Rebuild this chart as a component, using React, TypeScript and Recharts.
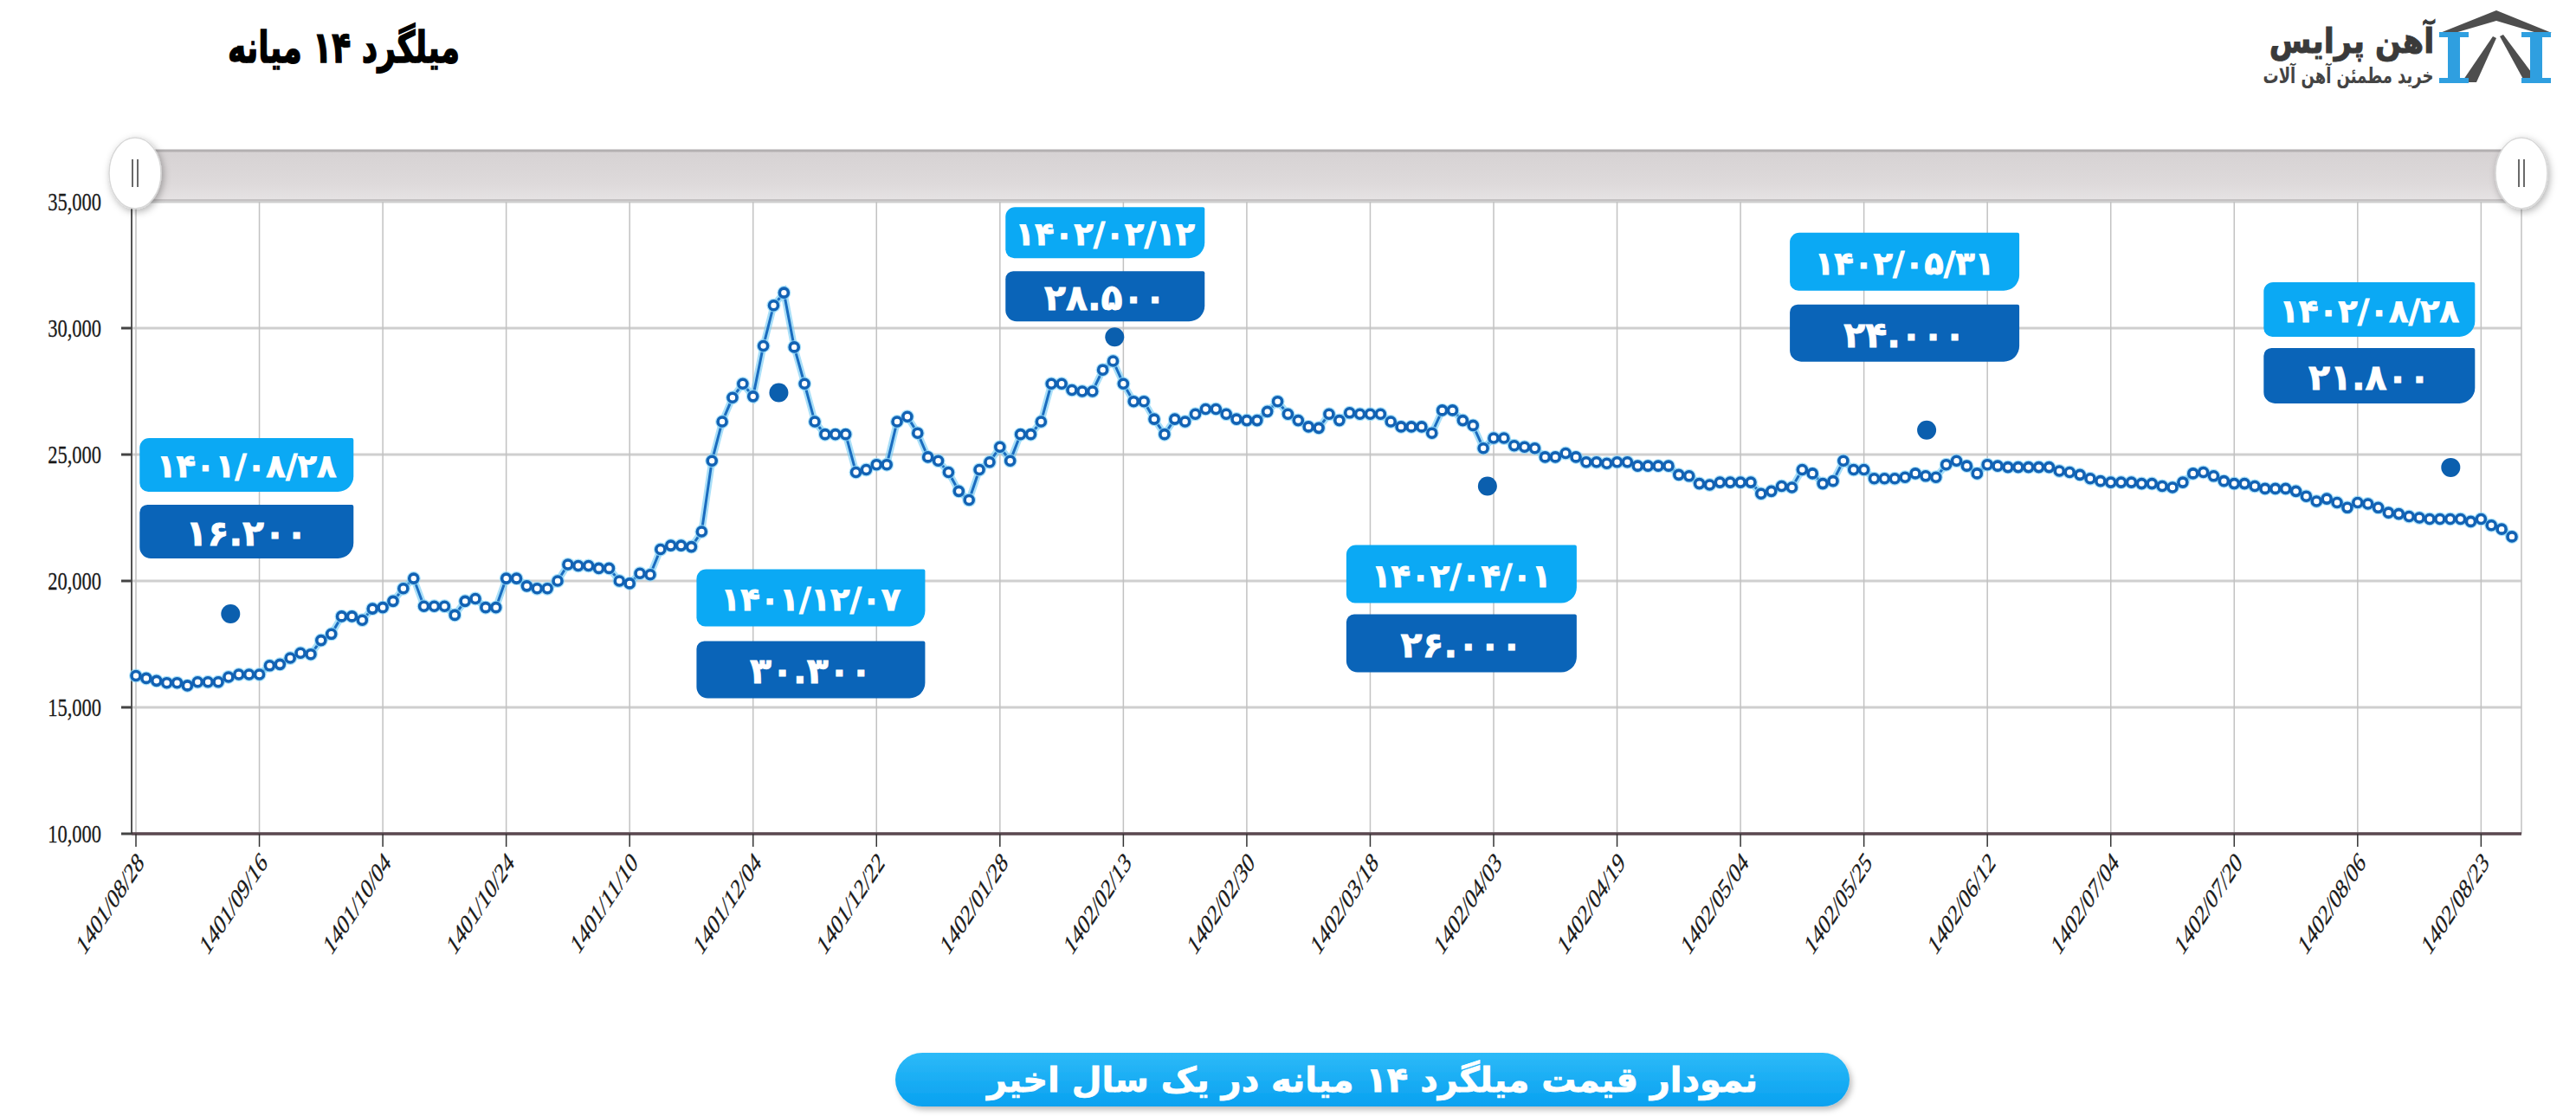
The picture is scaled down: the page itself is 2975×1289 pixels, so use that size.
import React from 'react';
import { LineChart, Line, XAxis, YAxis, CartesianGrid, ReferenceDot } from 'recharts';

const tickLabels = [
  '1401/08/28', '1401/09/16', '1401/10/04', '1401/10/24', '1401/11/10',
  '1401/12/04', '1401/12/22', '1402/01/28', '1402/02/13', '1402/02/30',
  '1402/03/18', '1402/04/03', '1402/04/19', '1402/05/04', '1402/05/25',
  '1402/06/12', '1402/07/04', '1402/07/20', '1402/08/06', '1402/08/23',
];
const tickIndexes = tickLabels.map((_, i) => i * 12);
const yTicks = [10000, 15000, 20000, 25000, 30000, 35000];

const prices = [
  16250, 16150, 16050, 15970, 15970, 15860, 16000, 16000, 16000, 16200, 16300, 16300,
  16300, 16650, 16700, 16950, 17150, 17100, 17650, 17900, 18600, 18600, 18450, 18900,
  18950, 19200, 19700, 20100, 19000, 19000, 19000, 18650, 19200, 19300, 18950, 18950,
  20100, 20100, 19800, 19700, 19700, 20000, 20650, 20600, 20600, 20500, 20500, 20000,
  19900, 20300, 20250, 21250, 21400, 21400, 21350, 21950, 24750, 26300, 27250, 27800,
  27300, 29300, 30900, 31400, 29250, 27800, 26300, 25800, 25800, 25800, 24300, 24400,
  24600, 24600, 26300, 26500, 25850, 24900, 24750, 24300, 23550, 23200, 24400, 24700,
  25300, 24750, 25800, 25800, 26300, 27800, 27800, 27550, 27500, 27500, 28350, 28700,
  27800, 27100, 27100, 26400, 25800, 26400, 26300, 26600, 26800, 26800, 26600, 26400,
  26350, 26350, 26700, 27100, 26600, 26350, 26100, 26050, 26600, 26350, 26650, 26600,
  26600, 26600, 26300, 26100, 26100, 26100, 25850, 26750, 26750, 26350, 26150, 25250,
  25650, 25650, 25350, 25300, 25250, 24900, 24900, 25050, 24900, 24700, 24700, 24650,
  24700, 24700, 24550, 24550, 24550, 24550, 24200, 24150, 23850, 23800, 23900, 23900,
  23900, 23900, 23450, 23550, 23750, 23700, 24400, 24250, 23850, 23950, 24750, 24400,
  24400, 24050, 24050, 24050, 24100, 24250, 24150, 24100, 24600, 24750, 24550, 24250,
  24600, 24550, 24500, 24500, 24500, 24500, 24500, 24350, 24300, 24200, 24050, 23950,
  23900, 23900, 23900, 23850, 23850, 23750, 23700, 23900, 24250, 24300, 24150, 23950,
  23850, 23850, 23750, 23650, 23650, 23650, 23550, 23350, 23150, 23250, 23100, 22900,
  23100, 23050, 22900, 22700, 22650, 22550, 22500, 22450, 22450, 22450, 22450, 22350,
  22450, 22200, 22050, 21750,
];

const data = prices.map((price, idx) => ({ idx, price }));

// annotation callouts
const calloutDates = ['1401/08/28', '1401/12/07', '1402/02/12', '1402/04/01', '1402/05/31', '1402/08/28'];
const calloutValues = ['16.200', '30.300', '28.500', '26.000', '24.000', '21.800'];
const calloutX = [9.2, 62.5, 95.15, 131.4, 174.1, 225.05];
const calloutY = [18700, 27450, 29650, 23750, 25970, 24490];

// layout of the callout boxes relative to their dot (pixels)
const calloutLayout = [
  { dx: -105, dy: -203, w: 247, hd: 62, gap: 15, hv: 62 },
  { dx: -95, dy: 204, w: 264, hd: 66, gap: 17, hv: 66 },
  { dx: -126, dy: -150, w: 230, hd: 59, gap: 15, hv: 58 },
  { dx: -163, dy: 68, w: 266, hd: 67, gap: 13, hv: 67 },
  { dx: -158, dy: -228, w: 265, hd: 67, gap: 16, hv: 66 },
  { dx: -216, dy: -214, w: 244, hd: 63, gap: 13, hv: 64 },
];

const FA = '۰۱۲۳۴۵۶۷۸۹';
const toFa = (s: string) => s.replace(/[0-9]/g, (d) => FA[Number(d)]);

const PERSIAN_FONT = "'DejaVu Sans', sans-serif";
const SERIF_FONT = "'Liberation Serif', 'DejaVu Serif', serif";

function boxPath(x: number, y: number, w: number, h: number, tl: number, tr: number, br: number, bl: number) {
  return `M${x + tl},${y} H${x + w - tr} A${tr},${tr} 0 0 1 ${x + w},${y + tr} V${y + h - br} A${br},${br} 0 0 1 ${x + w - br},${y + h} H${x + bl} A${bl},${bl} 0 0 1 ${x},${y + h - bl} V${y + tl} A${tl},${tl} 0 0 1 ${x + tl},${y} Z`;
}

const makeCallout = (i: number) => (props: any) => {
  const { cx, cy } = props;
  if (cx == null || cy == null) return null;
  const L = calloutLayout[i];
  const bx = cx + L.dx;
  const dyTop = cy + L.dy;
  const vTop = dyTop + L.hd + L.gap;
  return (
    <g>
      <circle cx={cx} cy={cy} r={11} fill="#0b5fae" />
      <path d={boxPath(bx, dyTop, L.w, L.hd, 11, 2, 18, 10)} fill="#0ba9f4" />
      <text x={bx + L.w / 2} y={dyTop + L.hd / 2 + 2} textAnchor="middle" dominantBaseline="central"
        fontFamily={PERSIAN_FONT} fontWeight="bold" fontSize={37} fill="#ffffff" stroke="#ffffff" strokeWidth={0.8} direction="ltr">
        {toFa(calloutDates[i])}
      </text>
      <path d={boxPath(bx, vTop, L.w, L.hv, 9, 2, 18, 13)} fill="#0a64b8" />
      <text x={bx + L.w / 2} y={vTop + L.hv / 2 + 2} textAnchor="middle" dominantBaseline="central"
        fontFamily={PERSIAN_FONT} fontWeight="bold" fontSize={41} fill="#ffffff" stroke="#ffffff" strokeWidth={0.8} direction="ltr">
        {toFa(calloutValues[i])}
      </text>
    </g>
  );
};

const YTick = (props: any) => {
  const { x, y, payload } = props;
  return (
    <text transform={`translate(${x},${y}) scale(0.75,1)`} x={0} y={0} textAnchor="end" dominantBaseline="central"
      fontFamily={SERIF_FONT} fontSize={30} fill="#1a1a1a" stroke="#1a1a1a" strokeWidth={0.3}>
      {Number(payload.value).toLocaleString('en-US')}
    </text>
  );
};

const XTick = (props: any) => {
  const { x, y, payload } = props;
  const label = tickLabels[Math.round(payload.value / 12)];
  return (
    <g transform={`translate(${x + 5},${y}) scale(0.66,1) rotate(-45)`}>
      <text x={0} y={0} dy="0.35em" textAnchor="end" fontFamily={SERIF_FONT} fontSize={33} fill="#1a1a1a"
        stroke="#1a1a1a" strokeWidth={0.3}>
        {label}
      </text>
    </g>
  );
};

const Handle = ({ cx }: { cx: number }) => (
  <g>
    <ellipse cx={cx} cy={200} rx={30} ry={41} fill="#ffffff" stroke="#d8d8d8" strokeWidth={1.5} filter="url(#hshadow)" />
    <line x1={cx - 3} y1={184} x2={cx - 3} y2={216} stroke="#6a6a6a" strokeWidth={2} />
    <line x1={cx + 3} y1={184} x2={cx + 3} y2={216} stroke="#6a6a6a" strokeWidth={2} />
  </g>
);

export default function App() {
  return (
    <div style={{ position: 'relative', width: 2975, height: 1289, background: '#ffffff', overflow: 'hidden' }}>
      <style>{`body{margin:0;background:#fff;}`}</style>
      <LineChart width={2975} height={1289} data={data} margin={{ top: 233, right: 63, bottom: 186, left: 12 }}>
        <CartesianGrid vertical={false} stroke="#cfcfcf" strokeWidth={3} />
        <CartesianGrid horizontal={false} stroke="#c2c2c2" strokeWidth={1.5} />
        <XAxis
          dataKey="idx"
          type="number"
          domain={[0, 231]}
          ticks={tickIndexes}
          interval={0}
          padding={{ left: 5, right: 11 }}
          height={140}
          tickSize={15}
          tickMargin={12}
          tick={<XTick />}
          axisLine={{ stroke: '#5b4850', strokeWidth: 3.5 }}
          tickLine={{ stroke: '#333333', strokeWidth: 1.5 }}
        />
        <YAxis
          type="number"
          domain={[10000, 35000]}
          ticks={yTicks}
          interval={0}
          width={140}
          tickSize={12}
          tickMargin={23}
          tick={<YTick />}
          axisLine={{ stroke: '#2a2a2a', strokeWidth: 1.5 }}
          tickLine={{ stroke: '#444444', strokeWidth: 3 }}
        />
        <Line
          type="linear"
          dataKey="price"
          stroke="#6fcaf4"
          strokeOpacity={0.6}
          strokeWidth={8}
          dot={{ r: 8, fill: '#8fd8f8', stroke: 'none', fillOpacity: 0.75 }}
          activeDot={false}
          isAnimationActive={false}
        />
        <Line
          type="linear"
          dataKey="price"
          stroke="#1a6cbf"
          strokeWidth={3}
          dot={{ r: 5, fill: '#ffffff', stroke: '#1262b4', strokeWidth: 3.6 }}
          activeDot={false}
          isAnimationActive={false}
        />
        {calloutX.map((x, i) => (
          <ReferenceDot key={i} x={x} y={calloutY[i]} r={11} shape={makeCallout(i)} ifOverflow="visible" />
        ))}
      </LineChart>

      <svg width={2975} height={1289} style={{ position: 'absolute', left: 0, top: 0, pointerEvents: 'none' }}>
        <defs>
          <filter id="hshadow" x="-50%" y="-50%" width="200%" height="200%">
            <feDropShadow dx="2" dy="3" stdDeviation="4" floodColor="#000" floodOpacity="0.3" />
          </filter>
          <filter id="bshadow" x="-10%" y="-40%" width="120%" height="200%">
            <feDropShadow dx="3" dy="4" stdDeviation="3" floodColor="#000" floodOpacity="0.25" />
          </filter>
          <linearGradient id="bannerGrad" x1="0" y1="0" x2="0" y2="1">
            <stop offset="0" stopColor="#2dbaf8" />
            <stop offset="1" stopColor="#08a1f0" />
          </linearGradient>
          <linearGradient id="bandGrad" x1="0" y1="0" x2="0" y2="1">
            <stop offset="0" stopColor="#d6d2d3" />
            <stop offset="0.7" stopColor="#dedadb" />
            <stop offset="1" stopColor="#e6e3e4" />
          </linearGradient>
        </defs>

        {/* title */}
        <g transform="translate(397,55) scale(0.72,1)">
          <text x={0} y={0} textAnchor="middle" dominantBaseline="central" fontFamily={PERSIAN_FONT}
            fontWeight="bold" fontSize={50} fill="#000000" stroke="#000000" strokeWidth={1.4}>
            میلگرد ۱۴ میانه
          </text>
        </g>

        {/* logo */}
        <g transform="translate(2716,47) scale(0.88,1)">
          <text x={0} y={0} textAnchor="middle" dominantBaseline="central" fontFamily={PERSIAN_FONT}
            fontWeight="bold" fontSize={40} fill="#3a3a3a" stroke="#3a3a3a" strokeWidth={1}>
            آهن پرایس
          </text>
        </g>
        <g transform="translate(2712,87) scale(0.72,1)">
          <text x={0} y={0} textAnchor="middle" dominantBaseline="central" fontFamily={PERSIAN_FONT}
            fontWeight="bold" fontSize={25} fill="#444444">
            خرید مطمئن آهن آلات
          </text>
        </g>
        <g>
          <polygon points="2818,38 2883,12 2947,38 2930,38 2883,24 2835,38" fill="#4e4e4e" />
          <polygon points="2843,95 2860,95 2883,44 2879,42" fill="#4e4e4e" />
          <polygon points="2887,42 2916,95 2932,95 2891,40" fill="#4e4e4e" />
          <rect x={2817} y={37} width={34} height={6} fill="#2f9fe0" />
          <rect x={2827} y={43} width={14} height={47} fill="#2f9fe0" />
          <rect x={2817} y={90} width={34} height={6} fill="#2f9fe0" />
          <rect x={2912} y={37} width={34} height={6} fill="#2f9fe0" />
          <rect x={2922} y={43} width={14} height={47} fill="#2f9fe0" />
          <rect x={2912} y={90} width={34} height={6} fill="#2f9fe0" />
        </g>

        {/* range band */}
        <rect x={156} y={174} width={2756} height={57} fill="url(#bandGrad)" />
        <line x1={156} y1={174} x2={2912} y2={174} stroke="#b3b0b1" strokeWidth={3} />
        <line x1={156} y1={231} x2={2912} y2={231} stroke="#c4c1c2" strokeWidth={2} />
        <Handle cx={156} />
        <Handle cx={2912} />

        {/* bottom banner */}
        <rect x={1034} y={1216} width={1102} height={62} rx={31} fill="url(#bannerGrad)" filter="url(#bshadow)" />
        <text x={1585} y={1247} textAnchor="middle" dominantBaseline="central" fontFamily={PERSIAN_FONT}
          fontWeight="bold" fontSize={40} fill="#ffffff" stroke="#ffffff" strokeWidth={0.8}>
          نمودار قیمت میلگرد ۱۴ میانه در یک سال اخیر
        </text>
      </svg>
    </div>
  );
}
